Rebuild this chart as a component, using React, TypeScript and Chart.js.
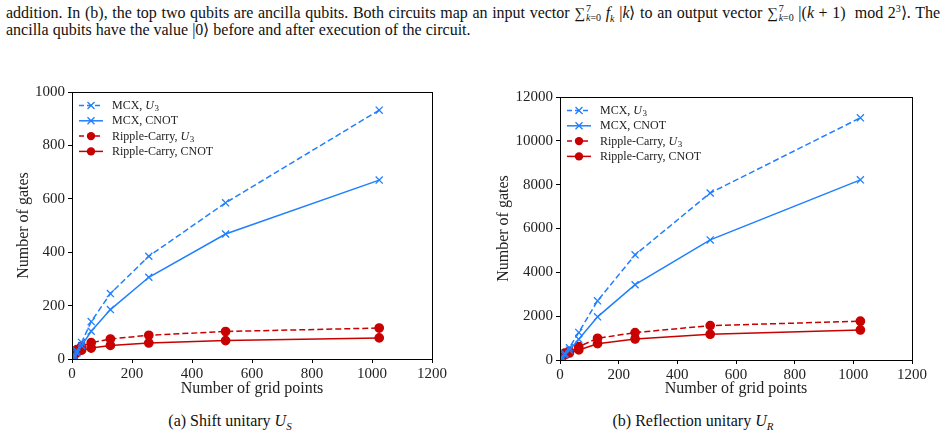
import React, { useEffect, useRef } from 'react';
import { Chart, registerables } from 'chart.js';
Chart.register(...registerables);

// ---------------- data ----------------
const gridPoints = [2, 4, 8, 16, 32, 64, 128, 256, 512, 1024];

// (a) Shift unitary
const shiftMcxU3 = [1, 4, 12, 30, 62, 140, 245, 385, 585, 932];
const shiftMcxCnot = [0, 2, 8, 22, 50, 104, 185, 306, 468, 670];
const shiftRippleU3 = [5, 14, 24, 35, 47, 61, 75, 89, 103, 116];
const shiftRippleCnot = [2, 8, 15, 24, 33, 41, 51, 60, 69, 79];

// (b) Reflection unitary
const reflMcxU3 = [0, 20, 120, 300, 560, 1260, 2700, 4800, 7620, 11050];
const reflMcxCnot = [0, 10, 80, 220, 450, 945, 1970, 3435, 5480, 8220];
const reflRippleU3 = [80, 150, 230, 310, 400, 610, 990, 1250, 1570, 1770];
const reflRippleCnot = [50, 110, 170, 240, 320, 460, 745, 960, 1175, 1370];

const xTickMax = 1200;
const xTickStep = 200;
const shiftYMax = 1000;
const shiftYStep = 200;
const reflYMax = 12000;
const reflYStep = 2000;

const seriesNames = ['MCX, ', 'MCX, ', 'Ripple-Carry, ', 'Ripple-Carry, '];
const seriesSuffix = ['U3', 'CNOT', 'U3', 'CNOT'];

const xTitle = 'Number of grid points';
const yTitle = 'Number of gates';

const BLUE = '#1f7fff';
const RED = '#c80000';
const FONT = "'Liberation Serif', 'Times New Roman', serif";
const CFONT = 'Liberation Serif';

type Geo = { padLeft: number; padTop: number; padRight: number; yWidth: number; xHeight: number };

function buildDatasets(vals: number[][]) {
  const styles = [
    { color: BLUE, dash: [6, 3], point: 'crossRot', r: 5 },
    { color: BLUE, dash: [], point: 'crossRot', r: 5 },
    { color: RED, dash: [6, 3], point: 'circle', r: 4.2 },
    { color: RED, dash: [], point: 'circle', r: 4.2 },
  ];
  return vals.map((v, i) => ({
    label: seriesNames[i] + seriesSuffix[i],
    data: gridPoints.map((x, j) => ({ x, y: v[j] })),
    borderColor: styles[i].color,
    backgroundColor: styles[i].color,
    pointBackgroundColor: styles[i].color,
    pointBorderColor: styles[i].color,
    borderDash: styles[i].dash,
    borderWidth: 1.5,
    pointStyle: styles[i].point,
    pointRadius: styles[i].r,
    pointBorderWidth: 1.3,
    tension: 0,
    fill: false,
  }));
}

const legendStyles = [
  { color: BLUE, dash: [5, 3], point: 'x' },
  { color: BLUE, dash: [], point: 'x' },
  { color: RED, dash: [5, 3], point: 'o' },
  { color: RED, dash: [], point: 'o' },
];

const framePlugin = {
  id: 'frameAndLegend',
  afterDraw(chart: any) {
    const { ctx, chartArea } = chart;
    const { left, top, right, bottom } = chartArea;
    ctx.save();
    ctx.strokeStyle = '#000';
    ctx.lineWidth = 1;
    ctx.setLineDash([]);
    ctx.strokeRect(Math.round(left) + 0.5, Math.round(top) + 0.5, Math.round(right - left), Math.round(bottom - top));

    // legend
    for (let i = 0; i < 4; i++) {
      const st = legendStyles[i];
      const y = top + 13.5 + i * 15.3;
      ctx.strokeStyle = st.color;
      ctx.fillStyle = st.color;
      ctx.lineWidth = 1.5;
      ctx.setLineDash(st.dash);
      ctx.beginPath();
      ctx.moveTo(left + 7, y);
      ctx.lineTo(left + 31, y);
      ctx.stroke();
      ctx.setLineDash([]);
      const mx = left + 19;
      if (st.point === 'x') {
        const d = 3.5;
        ctx.lineWidth = 1.3;
        ctx.beginPath();
        ctx.moveTo(mx - d, y - d);
        ctx.lineTo(mx + d, y + d);
        ctx.moveTo(mx - d, y + d);
        ctx.lineTo(mx + d, y - d);
        ctx.stroke();
      } else {
        ctx.beginPath();
        ctx.arc(mx, y, 4.2, 0, Math.PI * 2);
        ctx.fill();
      }
      // text
      ctx.fillStyle = '#222';
      ctx.textBaseline = 'middle';
      ctx.font = `12px ${FONT}`;
      let tx = left + 40;
      ctx.fillText(seriesNames[i], tx, y + 0.5);
      tx += ctx.measureText(seriesNames[i]).width;
      if (seriesSuffix[i] === 'U3') {
        ctx.font = `italic 12px ${FONT}`;
        ctx.fillText('U', tx, y + 0.5);
        tx += ctx.measureText('U').width;
        ctx.font = `9px ${FONT}`;
        ctx.fillText('3', tx + 0.5, y + 3.5);
      } else {
        ctx.fillText(seriesSuffix[i], tx, y + 0.5);
      }
    }
    ctx.restore();
  },
};

function makeConfig(vals: number[][], yMax: number, yStep: number, geo: Geo) {
  return {
    type: 'line' as const,
    data: { datasets: buildDatasets(vals) },
    options: {
      animation: false as const,
      responsive: false,
      maintainAspectRatio: false,
      layout: { padding: { left: geo.padLeft, top: geo.padTop, right: geo.padRight, bottom: 0 } },
      plugins: { legend: { display: false }, tooltip: { enabled: false } },
      scales: {
        x: {
          type: 'linear' as const,
          min: 0,
          max: xTickMax,
          ticks: { stepSize: xTickStep, color: '#222', font: { family: CFONT, size: 15 }, padding: 2, maxRotation: 0, callback: (v: any) => String(v) },
          grid: { display: true, drawOnChartArea: false, drawTicks: true, tickLength: 4, color: '#000', tickColor: '#000' },
          border: { display: false },
          title: { display: true, text: xTitle, color: '#222', font: { family: CFONT, size: 16 }, padding: 0 },
          afterFit: (s: any) => { s.height = geo.xHeight; },
        },
        y: {
          type: 'linear' as const,
          min: 0,
          max: yMax,
          ticks: { stepSize: yStep, color: '#222', font: { family: CFONT, size: 15 }, padding: 3, callback: (v: any) => String(v) },
          grid: { display: true, drawOnChartArea: false, drawTicks: true, tickLength: 4, color: '#000', tickColor: '#000' },
          border: { display: false },
          title: { display: true, text: yTitle, color: '#222', font: { family: CFONT, size: 16 }, padding: 0 },
          afterFit: (s: any) => { s.width = geo.yWidth; },
        },
      },
    },
    plugins: [framePlugin],
  };
}

function ChartCanvas(props: { left: number; top: number; width: number; height: number; vals: number[][]; yMax: number; yStep: number; geo: Geo }) {
  const ref = useRef<HTMLCanvasElement>(null);
  useEffect(() => {
    if (!ref.current) return;
    const chart = new Chart(ref.current, makeConfig(props.vals, props.yMax, props.yStep, props.geo) as any);
    return () => chart.destroy();
  }, []);
  return (
    <canvas
      ref={ref}
      width={props.width}
      height={props.height}
      style={{ position: 'absolute', left: props.left, top: props.top, width: props.width, height: props.height }}
    />
  );
}

const Sum = () => (
  <span style={{ whiteSpace: 'nowrap' }}>
    <span style={{ fontSize: 15 }}>∑</span>
    <span style={{ display: 'inline-block', verticalAlign: '-3px', fontSize: 10, lineHeight: '9px', marginLeft: 1 }}>
      <span style={{ display: 'block' }}>7</span>
      <span style={{ display: 'block' }}><i>k</i>=0</span>
    </span>
  </span>
);

export default function App() {
  const textStyle: React.CSSProperties = {
    position: 'absolute', left: 6, width: 934, height: 18, fontFamily: FONT, fontSize: 16, lineHeight: '18px', color: '#111', whiteSpace: 'nowrap',
  };
  return (
    <div style={{ position: 'fixed', left: 0, top: 0, width: 945, height: 436, background: '#fff', overflow: 'hidden' }}>
      <div style={{ ...textStyle, top: 4, whiteSpace: 'normal', textAlign: 'justify', textAlignLast: 'justify' } as any}>
        addition. In (b), the top two qubits are ancilla qubits. Both circuits map an input vector <Sum /> <i>f</i><sub style={{ fontSize: 10, lineHeight: 0 }}><i>k</i></sub> |<i>k</i>⟩ to an output vector <Sum /> |(<i>k</i> + 1)&nbsp;&nbsp;mod 2<sup style={{ fontSize: 10, lineHeight: 0 }}>3</sup>⟩. The
      </div>
      <div style={{ ...textStyle, top: 21 }}>
        ancilla qubits have the value |0⟩ before and after execution of the circuit.
      </div>

      <ChartCanvas
        left={0} top={80} width={470} height={318}
        vals={[shiftMcxU3, shiftMcxCnot, shiftRippleU3, shiftRippleCnot]}
        yMax={shiftYMax} yStep={shiftYStep}
        geo={{ padLeft: 13.7, padTop: 12, padRight: 38, yWidth: 58.3, xHeight: 39 }}
      />
      <ChartCanvas
        left={470} top={80} width={475} height={318}
        vals={[reflMcxU3, reflMcxCnot, reflRippleU3, reflRippleCnot]}
        yMax={reflYMax} yStep={reflYStep}
        geo={{ padLeft: 24, padTop: 17, padRight: 33, yWidth: 66, xHeight: 38 }}
      />

      <div style={{ position: 'absolute', left: 80, width: 300, top: 412, textAlign: 'center', fontFamily: FONT, fontSize: 16, lineHeight: '18px', color: '#111' }}>
        (a) Shift unitary <i>U</i><sub style={{ fontSize: 11, lineHeight: 0 }}><i>S</i></sub>
      </div>
      <div style={{ position: 'absolute', left: 543, width: 300, top: 412, textAlign: 'center', fontFamily: FONT, fontSize: 16, lineHeight: '18px', color: '#111' }}>
        (b) Reflection unitary <i>U</i><sub style={{ fontSize: 11, lineHeight: 0 }}><i>R</i></sub>
      </div>
    </div>
  );
}
